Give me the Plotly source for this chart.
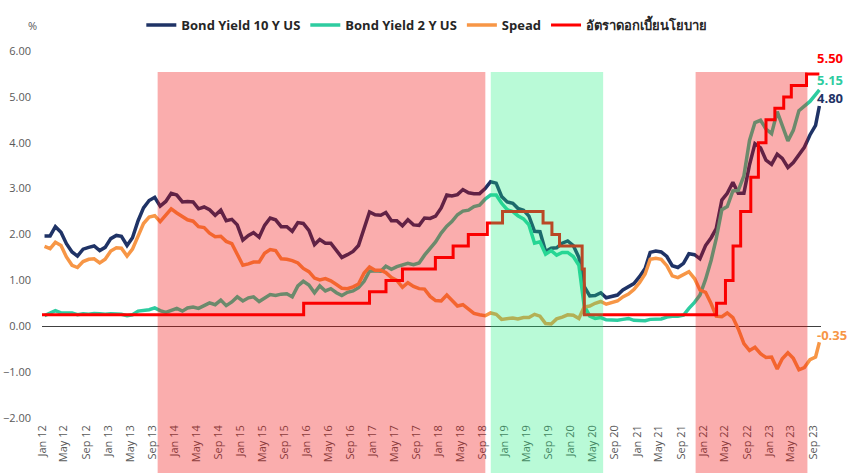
import pandas as pd
import plotly.graph_objects as go

# ---------------- data (monthly, Jan 2012 -> Sep 2023, plus early Oct 2023) ----------------
months = [d + pd.Timedelta(days=14) for d in pd.date_range("2012-01-01", "2023-09-01", freq="MS")]
dates = months + [pd.Timestamp("2023-10-06")]

bond10 = [
    1.97, 1.97, 2.17, 2.05, 1.80, 1.62, 1.53, 1.68, 1.72, 1.75, 1.65, 1.72,
    1.91, 1.98, 1.96, 1.76, 1.93, 2.30, 2.58, 2.74, 2.81, 2.62, 2.72, 2.90,
    2.86, 2.71, 2.72, 2.71, 2.56, 2.60, 2.54, 2.42, 2.53, 2.30, 2.33, 2.21,
    1.88, 1.98, 2.04, 1.94, 2.20, 2.36, 2.32, 2.17, 2.17, 2.07, 2.26, 2.24,
    2.09, 1.78, 1.89, 1.81, 1.81, 1.64, 1.50, 1.56, 1.63, 1.76, 2.14, 2.49,
    2.43, 2.42, 2.48, 2.30, 2.30, 2.19, 2.32, 2.21, 2.20, 2.36, 2.35, 2.40,
    2.58, 2.86, 2.84, 2.87, 2.98, 2.91, 2.89, 2.89, 3.00, 3.15, 3.12, 2.83,
    2.71, 2.68, 2.57, 2.53, 2.40, 2.07, 2.06, 1.63, 1.70, 1.71, 1.81, 1.86,
    1.76, 1.50, 0.87, 0.66, 0.67, 0.73, 0.62, 0.65, 0.68, 0.79, 0.87, 0.93,
    1.08, 1.26, 1.61, 1.64, 1.62, 1.52, 1.32, 1.28, 1.37, 1.58, 1.56, 1.47,
    1.76, 1.93, 2.13, 2.75, 2.90, 3.14, 2.90, 2.90, 3.52, 3.98, 3.89, 3.62,
    3.53, 3.75, 3.66, 3.46, 3.57, 3.75, 3.90, 4.17, 4.38, 4.80,
]
bond2 = [
    0.23, 0.28, 0.34, 0.29, 0.29, 0.29, 0.25, 0.27, 0.26, 0.28, 0.27, 0.26,
    0.27, 0.27, 0.26, 0.23, 0.25, 0.33, 0.34, 0.36, 0.40, 0.34, 0.30, 0.34,
    0.39, 0.33, 0.40, 0.42, 0.39, 0.45, 0.51, 0.47, 0.57, 0.45, 0.53, 0.64,
    0.55, 0.62, 0.64, 0.54, 0.61, 0.69, 0.67, 0.70, 0.71, 0.64, 0.88, 0.98,
    0.90, 0.73, 0.88, 0.77, 0.82, 0.73, 0.67, 0.74, 0.77, 0.84, 0.98, 1.20,
    1.21, 1.20, 1.31, 1.24, 1.30, 1.34, 1.37, 1.34, 1.38, 1.55, 1.70, 1.84,
    2.03, 2.18, 2.28, 2.43, 2.51, 2.53, 2.61, 2.64, 2.77, 2.86, 2.86, 2.68,
    2.54, 2.50, 2.41, 2.34, 2.21, 1.81, 1.84, 1.57, 1.65, 1.55, 1.61, 1.61,
    1.52, 1.33, 0.45, 0.22, 0.17, 0.19, 0.14, 0.14, 0.13, 0.15, 0.17, 0.13,
    0.13, 0.12, 0.15, 0.16, 0.16, 0.20, 0.22, 0.22, 0.24, 0.39, 0.52, 0.68,
    1.02, 1.44, 1.91, 2.54, 2.61, 2.95, 2.96, 3.28, 4.05, 4.44, 4.49, 4.30,
    4.20, 4.68, 4.37, 4.04, 4.27, 4.70, 4.80, 4.90, 5.05, 5.15,
]
spread = [
    1.74, 1.69, 1.83, 1.76, 1.51, 1.33, 1.28, 1.41, 1.46, 1.47, 1.38, 1.46,
    1.64, 1.71, 1.70, 1.53, 1.68, 1.97, 2.24, 2.38, 2.41, 2.28, 2.42, 2.56,
    2.47, 2.38, 2.32, 2.29, 2.17, 2.15, 2.03, 1.95, 1.96, 1.85, 1.80, 1.57,
    1.33, 1.36, 1.40, 1.40, 1.59, 1.67, 1.65, 1.47, 1.46, 1.43, 1.38, 1.26,
    1.19, 1.05, 1.01, 1.04, 0.99, 0.91, 0.83, 0.82, 0.86, 0.92, 1.16, 1.29,
    1.22, 1.22, 1.17, 1.06, 1.00, 0.85, 0.95, 0.87, 0.82, 0.81, 0.65, 0.56,
    0.55, 0.68, 0.56, 0.44, 0.47, 0.38, 0.28, 0.25, 0.23, 0.29, 0.26, 0.15,
    0.17, 0.18, 0.16, 0.19, 0.19, 0.26, 0.22, 0.06, 0.05, 0.16, 0.20, 0.25,
    0.24, 0.17, 0.42, 0.44, 0.50, 0.54, 0.48, 0.51, 0.55, 0.64, 0.70, 0.80,
    0.95, 1.14, 1.46, 1.48, 1.46, 1.32, 1.10, 1.06, 1.13, 1.19, 1.04, 0.79,
    0.74, 0.49, 0.22, 0.21, 0.29, 0.19, -0.06, -0.38, -0.53, -0.46, -0.60, -0.68,
    -0.67, -0.93, -0.71, -0.58, -0.70, -0.95, -0.90, -0.73, -0.67, -0.35,
]

# policy rate (upper bound) change dates and levels
rate_dates = [
    "2012-01-01", "2015-12-17", "2016-12-15", "2017-03-16", "2017-06-15", "2017-12-14",
    "2018-03-22", "2018-06-14", "2018-09-27", "2018-12-20", "2019-08-01", "2019-09-19",
    "2019-10-31", "2020-03-04", "2020-03-16", "2022-03-17", "2022-05-05", "2022-06-16",
    "2022-07-28", "2022-09-22", "2022-11-03", "2022-12-15", "2023-02-02", "2023-03-23",
    "2023-05-04", "2023-07-27", "2023-10-06",
]
rate_values = [
    0.25, 0.50, 0.75, 1.00, 1.25, 1.50,
    1.75, 2.00, 2.25, 2.50, 2.25, 2.00,
    1.75, 1.25, 0.25, 0.50, 1.00, 1.75,
    2.50, 3.25, 4.00, 4.50, 4.75, 5.00,
    5.25, 5.50, 5.50,
]

# shaded periods
pink_periods = [("2013-10-01", "2018-09-16"), ("2021-11-21", "2023-08-01")]
green_periods = [("2018-10-16", "2020-06-28")]

names = ["Bond Yield 10 Y US", "Bond Yield 2 Y US", "Spead", "อัตราดอกเบี้ยนโยบาย"]
colors = ["#1F3366", "#2ECCA0", "#F79646", "#FF0000"]

# ---------------- figure ----------------
fig = go.Figure()
fig.add_trace(go.Scatter(x=dates, y=bond10, name=names[0], mode="lines",
                         line=dict(color=colors[0], width=3.5)))
fig.add_trace(go.Scatter(x=dates, y=bond2, name=names[1], mode="lines",
                         line=dict(color=colors[1], width=3.5)))
fig.add_trace(go.Scatter(x=dates, y=spread, name=names[2], mode="lines",
                         line=dict(color=colors[2], width=3.5)))
fig.add_trace(go.Scatter(x=pd.to_datetime(rate_dates), y=rate_values, name=names[3],
                         mode="lines", line=dict(color=colors[3], width=3, shape="hv")))

top = (418 - 72) / 367
for a, b in pink_periods:
    fig.add_shape(type="rect", xref="x", yref="paper", x0=a, x1=b, y0=-0.2, y1=top,
                  fillcolor="rgba(240,0,0,0.32)", line_width=0, layer="above")
for a, b in green_periods:
    fig.add_shape(type="rect", xref="x", yref="paper", x0=a, x1=b, y0=-0.2, y1=top,
                  fillcolor="rgba(22,238,121,0.30)", line_width=0, layer="above")

# end labels
end_x = dates[-1]
end_vals = [(rate_values[-1], colors[3], 16), (bond2[-1], colors[1], 10),
            (bond10[-1], colors[0], 8), (spread[-1], colors[2], 7)]
for v, c, ys in end_vals:
    fig.add_annotation(x=end_x, y=v, xref="x", yref="y", text=f"{v:.2f}",
                       showarrow=False, xanchor="left", xshift=-4, yshift=ys,
                       font=dict(size=13, color=c, family="Open Sans", weight="bold"))

fig.add_annotation(xref="paper", yref="paper", x=(32 - 42) / 779, y=(418 - 26) / 367,
                   xanchor="center", yanchor="middle",
                   text="%", showarrow=False, font=dict(size=11, color="#595959"))

fig.update_layout(
    width=850, height=473,
    margin=dict(l=42, r=29, t=51, b=55, autoexpand=False),
    paper_bgcolor="white", plot_bgcolor="white",
    font=dict(family="Open Sans", size=11, color="#595959"),
    showlegend=True,
    legend=dict(orientation="h", x=0.494, xanchor="center", y=(418 - 25) / 367,
                yanchor="middle", itemwidth=30,
                font=dict(size=13, color="#262626", family="Open Sans", weight="bold")),
    xaxis=dict(type="date", range=["2012-01-01", "2023-10-15"], automargin=False,
               tick0="2012-01-01", dtick="M4", tickformat="%b %y", tickangle=-90,
               showgrid=False, showline=False, ticks="", ticklabelstandoff=4,
               tickfont=dict(size=11, color="#595959")),
    yaxis=dict(range=[-2, 6], dtick=1, tickformat=".2f", showgrid=False, automargin=False,
               zeroline=True, zerolinecolor="#404040", zerolinewidth=1,
               showline=False, ticks="", ticklabelstandoff=10,
               tickfont=dict(size=11, color="#595959")),
)

fig.write_html("out.html", config={"displayModeBar": False},
               post_script="document.body.style.margin='0';")
